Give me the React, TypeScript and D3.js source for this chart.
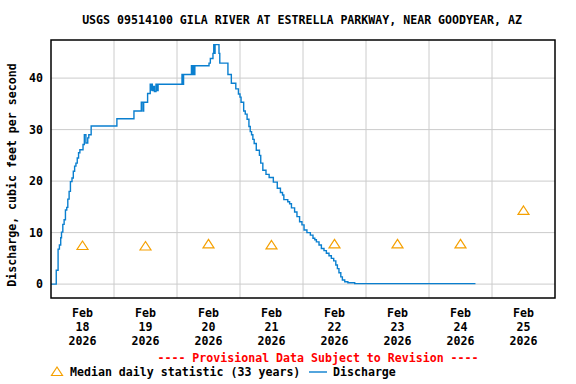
import React from 'react';
import * as d3 from 'd3';

const width = 576;
const height = 384;
const margin = { top: 40, right: 21, bottom: 86, left: 51 };

const title = 'USGS 09514100 GILA RIVER AT ESTRELLA PARKWAY, NEAR GOODYEAR, AZ';
const yLabel = 'Discharge, cubic feet per second';
const provisional = '---- Provisional Data Subject to Revision ----';

const startDate = new Date(Date.UTC(2026, 1, 18));
const endDate = new Date(Date.UTC(2026, 1, 26));

// hours after Feb 18 00:00 and discharge (cfs), step readings
const dischargeHours = [
  0, 2.0, 2.7, 3.2, 3.7, 4.0, 4.5, 5.0, 5.5, 6.0, 6.4, 6.9, 7.4, 8.0, 8.5, 9.0,
  9.5, 10.0, 10.5, 11.0, 12.2, 12.7, 13.3, 14.0, 14.4, 15.3, 25.1, 31.6, 34.4,
  35.0, 35.3, 36.8, 37.8, 38.0, 38.3, 38.6, 39.0, 39.4, 40.0, 40.3, 40.8, 49.9,
  50.2, 50.5, 53.5, 53.8, 54.2, 54.5, 54.8, 55.4, 60.2, 60.7, 61.7, 62.0, 62.2,
  62.5, 64.0, 64.3, 67.4, 68.7, 70.4, 71.4, 72.0, 72.4, 73.4, 74.0, 74.7, 75.4,
  75.9, 76.4, 76.9, 77.4, 78.2, 79.4, 79.9, 80.7, 81.9, 83.1, 84.7, 86.2, 87.4,
  88.2, 88.7, 90.2, 90.9, 91.6, 92.8, 93.7, 94.7, 95.6, 96.4, 97.5, 98.8, 99.8,
  100.5, 101.1, 102.1, 103.0, 104.0, 104.9, 105.9, 106.8, 107.7, 108.5, 109.1,
  109.7, 110.4, 111.0, 111.9, 113.1, 115.7, 161.7,
];
const dischargeValues = [
  0, 2.7, 6.8, 7.6, 9.0, 10.1, 11.6, 12.5, 14.4, 14.9, 16.5, 18.0, 19.9, 20.6,
  21.9, 22.9, 23.5, 24.5, 25.5, 26.1, 27.1, 29.0, 27.4, 28.4, 29.0, 30.7, 32.1,
  33.6, 35.3, 33.6, 35.3, 37.0, 38.8, 37.7, 38.8, 37.6, 38.4, 37.4, 38.8, 37.6,
  38.8, 40.7, 38.8, 40.7, 42.4, 40.7, 42.4, 40.7, 42.4, 42.4, 42.9, 43.8, 44.8,
  46.5, 44.8, 46.5, 44.8, 42.9, 40.7, 39.0, 37.9, 36.9, 36.3, 35.3, 33.6, 33.0,
  32.0, 30.6, 29.6, 29.0, 28.1, 27.3, 26.0, 25.0, 23.5, 22.1, 21.3, 20.7, 19.8,
  18.6, 17.8, 17.3, 16.4, 16.0, 15.6, 14.8, 14.0, 13.1, 12.1, 11.5, 10.5, 10.0,
  9.5, 8.9, 8.6, 8.2, 7.6, 6.9, 6.5, 6.0, 5.5, 5.0, 4.5, 3.7, 3.0, 2.2, 1.4,
  0.8, 0.45, 0.25, 0.1, 0.1,
];

// median daily statistic, plotted at noon
const medianDays = [18, 19, 20, 21, 22, 23, 24, 25];
const medianValues = [7.4, 7.3, 7.7, 7.5, 7.7, 7.7, 7.7, 14.2];

const yTicks = [0, 10, 20, 30, 40];

const font = '"DejaVu Sans Mono", "Liberation Mono", monospace';
const lineColor = '#0a7fcf';
const triColor = '#f5a000';

export default function App() {
  const x = d3
    .scaleUtc()
    .domain([startDate, endDate])
    .range([margin.left, width - margin.right]);
  const y = d3
    .scaleLinear()
    .domain([-2.7, 47.4])
    .range([height - margin.bottom, margin.top]);

  const toDate = (h: number) => new Date(startDate.getTime() + h * 3600e3);
  const points: [Date, number][] = dischargeHours.map((h, i) => [toDate(h), dischargeValues[i]]);

  const line = d3
    .line<[Date, number]>()
    .x((d) => x(d[0]))
    .y((d) => y(d[1]))
    .curve(d3.curveStepAfter);

  const midnights = d3.utcDay.range(d3.utcDay.offset(startDate, 1), endDate);
  const noons = medianDays.map((d) => new Date(Date.UTC(2026, 1, d, 12)));

  const plotTop = margin.top;
  const plotBottom = height - margin.bottom;
  const plotLeft = margin.left;
  const plotRight = width - margin.right;

  const tri = (cx: number, cy: number) =>
    `M${cx},${cy - 5} L${cx + 5.5},${cy + 3.5} L${cx - 5.5},${cy + 3.5} Z`;

  return (
    <svg
      width={width}
      height={height}
      style={{ position: 'absolute', left: 0, top: 0, background: '#fff' }}
      fontFamily={font}
      fontWeight="bold"
      fontSize={11.6}
    >
      <text x={302} y={24} textAnchor="middle" fill="#000">
        {title}
      </text>

      {yTicks.map((t) => (
        <line key={'gy' + t} x1={plotLeft} x2={plotRight} y1={y(t)} y2={y(t)} stroke="#cccccc" />
      ))}
      {midnights.map((d) => (
        <line key={'gx' + d.getTime()} x1={x(d)} x2={x(d)} y1={plotTop} y2={plotBottom} stroke="#cccccc" />
      ))}

      <path d={line(points) || ''} fill="none" stroke={lineColor} strokeWidth={1.4} />

      {noons.map((d, i) => (
        <path key={'m' + i} d={tri(x(d), y(medianValues[i]))} fill="none" stroke={triColor} strokeWidth={1.2} />
      ))}

      <rect
        x={plotLeft}
        y={plotTop}
        width={plotRight - plotLeft}
        height={plotBottom - plotTop}
        fill="none"
        stroke="#000"
        strokeWidth={1.5}
      />

      {yTicks.map((t) => (
        <text key={'yt' + t} x={43} y={y(t) + 4} textAnchor="end" fill="#000">
          {t}
        </text>
      ))}

      {noons.map((d) => (
        <text key={'xt' + d.getTime()} x={x(d)} textAnchor="middle" fill="#000">
          <tspan x={x(d)} y={317}>{d3.utcFormat('%b')(d)}</tspan>
          <tspan x={x(d)} y={331}>{d3.utcFormat('%d')(d)}</tspan>
          <tspan x={x(d)} y={345}>{d3.utcFormat('%Y')(d)}</tspan>
        </text>
      ))}

      <text transform={`translate(16,175) rotate(-90)`} textAnchor="middle" fill="#000">
        {yLabel}
      </text>

      <text x={318} y={362} textAnchor="middle" fill="#ff0000">
        {provisional}
      </text>

      <path d={tri(57, 372)} fill="none" stroke={triColor} strokeWidth={1.2} />
      <text x={70} y={376} fill="#000">
        Median daily statistic (33 years)
      </text>
      <line x1={309} x2={327} y1={372} y2={372} stroke={lineColor} strokeWidth={1.4} />
      <text x={333} y={376} fill="#000">
        Discharge
      </text>
    </svg>
  );
}
